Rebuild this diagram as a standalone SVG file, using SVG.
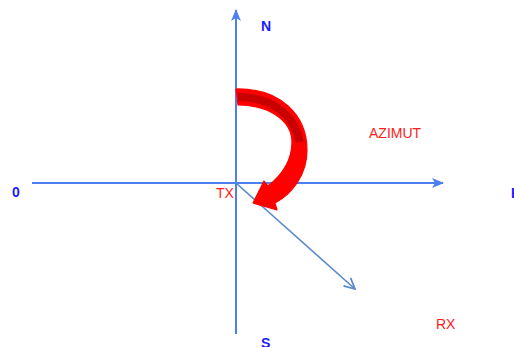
<svg xmlns="http://www.w3.org/2000/svg" width="514" height="347" viewBox="0 0 514 347">
<style>
.axis{stroke:#4d7ef2;stroke-width:2;fill:none}
.lbl{font-family:"Liberation Sans",Arial,sans-serif;font-weight:bold;fill:#1a1aff;font-size:14px}
.red{font-family:"Liberation Sans",Arial,sans-serif;fill:#ff1a1a;font-size:14px}
</style>
<defs>
<marker id="ah" viewBox="0 0 12 10" refX="11" refY="5" markerWidth="6" markerHeight="5" orient="auto" markerUnits="strokeWidth">
<path d="M0,0 L12,5 L0,10 L3,5 Z" fill="#4d7ef2"/>
</marker>
<marker id="open" viewBox="0 0 12 12" refX="11" refY="6" markerWidth="8" markerHeight="8" orient="auto" markerUnits="strokeWidth">
<path d="M1,1 L11,6 L1,11" fill="none" stroke="#5a8ac9" stroke-width="1.6"/>
</marker>
</defs>
<rect width="514" height="347" fill="#ffffff"/>
<g id="connectors">
<line class="axis" x1="236" y1="334" x2="236" y2="10" marker-end="url(#ah)"/>
<line class="axis" x1="32" y1="183" x2="443" y2="183" marker-end="url(#ah)"/>
<line x1="236" y1="183" x2="355" y2="289" stroke="#5a8ac9" stroke-width="1.6" marker-end="url(#open)"/>
</g>
<g id="azimut-arrow">
<path d="M236,89 C280,88 307,115 307,150 C307,175 292,194 275,203 L277,210 L253,203 L264,181 L268,186 C282,175 292,160 292,142 C292,120 268,105 238,105 Z" fill="#ff0000" stroke="#ff0000" stroke-width="1.2" stroke-linejoin="round"/>
<path d="M238,97 C272,97 294,115 300,142" fill="none" stroke="#c80000" stroke-width="8"/>
</g>
<g id="N"><text class="lbl" x="261" y="31">N</text></g>
<g id="W"><text class="lbl" x="12" y="197">0</text></g>
<g id="E"><text class="lbl" x="511" y="198">E</text></g>
<g id="S"><text class="lbl" x="261" y="348">S</text></g>
<g id="TX"><text class="red" x="216" y="198">TX</text></g>
<g id="AZIMUT"><text class="red" x="369" y="138" font-size="14.5">AZIMUT</text></g>
<g id="RX"><text class="red" x="436" y="329" font-size="15">RX</text></g>
</svg>
